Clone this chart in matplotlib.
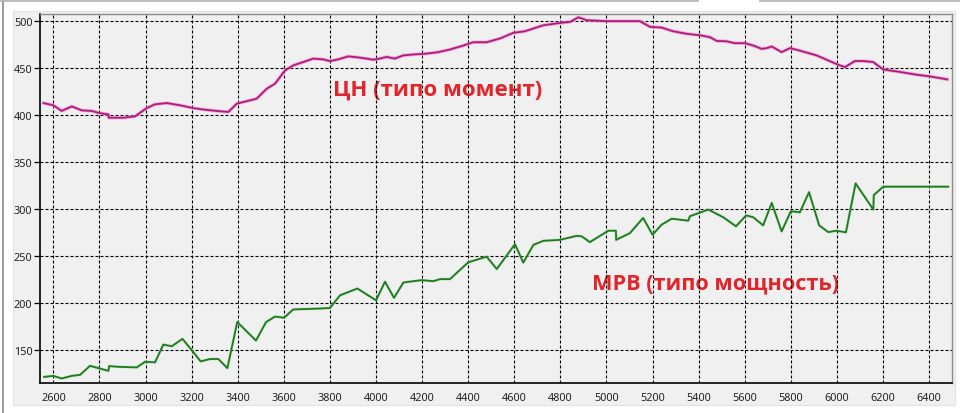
import matplotlib
matplotlib.use("Agg")
import matplotlib.pyplot as plt
from matplotlib.patches import Rectangle
from matplotlib.lines import Line2D

# ---- data ----
cn_rpm = [2557, 2600, 2636, 2680, 2723, 2767, 2795, 2839, 2840, 2904, 2954, 3005, 3041, 3092,
          3150, 3207, 3258, 3309, 3359, 3396, 3482, 3526, 3562, 3605, 3641, 3685, 3728, 3771,
          3800, 3836, 3880, 3931, 3988, 4017, 4046, 4082, 4118, 4162, 4220, 4270, 4321, 4379,
          4422, 4480, 4538, 4596, 4645, 4726, 4798, 4842, 4878, 4914, 5001, 5145, 5189, 5239,
          5290, 5348, 5406, 5449, 5478, 5521, 5557, 5600, 5637, 5673, 5695, 5717, 5760, 5796,
          5825, 5912, 6006, 6035, 6078, 6114, 6157, 6201, 6259, 6346, 6404, 6479]
cn_val = [412.4, 410, 404, 408.8, 404.6, 404, 402, 400.3, 396.8, 396.8, 398.2, 407, 411, 412.4,
          410, 407, 405.3, 404, 402.9, 411.7, 417, 427.6, 433, 447, 452.4, 456, 459.6, 458.8,
          457, 458.8, 462, 460.6, 458.5, 459.6, 461.4, 459.6, 463, 464, 464.9, 466.5, 469.3, 473.5,
          477, 477, 481, 487, 488.6, 495, 497.5, 498.6, 503.5, 500.4, 499.4, 499.4, 493.3, 492.6,
          488.6, 486, 484.4, 482.4, 478.4, 478, 476, 476, 473.5, 470, 470.7, 472.5, 466.5, 470.7,
          469, 463, 453, 450.6, 457, 457, 456, 448, 446, 442.5, 440.7, 437.5]

mrv_rpm = [2560, 2600, 2636, 2680, 2716, 2759, 2795, 2839, 2842, 2882, 2962, 2998, 3041, 3077,
           3114, 3160, 3200, 3239, 3280, 3316, 3355, 3398, 3479, 3523, 3562, 3601, 3641, 3743,
           3800, 3844, 3919, 4000, 4039, 4078, 4119, 4162, 4198, 4249, 4278, 4321, 4400, 4480,
           4524, 4603, 4639, 4683, 4726, 4798, 4871, 4893, 4928, 5008, 5041, 5042, 5102, 5159,
           5200, 5239, 5283, 5355, 5362, 5442, 5507, 5562, 5606, 5637, 5680, 5717, 5760, 5800,
           5839, 5879, 5923, 5962, 5998, 6039, 6081, 6158, 6160, 6201, 6483]
mrv_val = [121.4, 122.5, 119.7, 122.5, 123.6, 133.2, 130.7, 127.8, 132.9, 132.1, 131.5, 137.5,
           136.8, 155.7, 154, 161.8, 150, 137.9, 140.4, 140.4, 130.7, 179.7, 160, 179.7, 185.5,
           184.3, 193.1, 193.9, 194.6, 208.1, 215.3, 202.8, 222.5, 205.4, 221.7, 223.1, 224.2,
           223.1, 225.3, 225.3, 243.1, 249.2, 236, 262.4, 242.8, 261.7, 266, 267, 271.3, 270.7,
           264.6, 276.7, 276.7, 267, 274.2, 290.3, 272.4, 283.1, 289.5, 287.4, 292.1, 299.2, 291,
           281.4, 293, 291, 282.4, 306.3, 276, 297.4, 296.3, 317.7, 282.4, 275.3, 276.7, 275, 327,
           299.2, 314.6, 323.5, 323.5]

x_ticks = [2600, 2800, 3000, 3200, 3400, 3600, 3800, 4000, 4200, 4400, 4600, 4800, 5000,
           5200, 5400, 5600, 5800, 6000, 6200, 6400]
y_ticks = [150, 200, 250, 300, 350, 400, 450, 500]
label_cn = "ЦН (типо момент)"
label_mrv = "МРВ (типо мощность)"

# ---- figure ----
W, H = 960, 414
fig = plt.figure(figsize=(W / 100, H / 100), dpi=100, facecolor="white")

# background panel
fig.patches.append(Rectangle((13 / W, 1 - 406 / H), (955 - 13) / W, (406 - 12) / H,
                             transform=fig.transFigure, facecolor="#f0f0f0",
                             edgecolor="#e2e2e2", lw=0.8, zorder=-5))
# window frame fragments
fig.lines.append(Line2D([3 / W, 3 / W], [0, 1], transform=fig.transFigure, color="#8a8a8a", lw=1.2, zorder=-4))
fig.lines.append(Line2D([0, 698 / W], [1 - 1.5 / H] * 2, transform=fig.transFigure, color="#b0b0b0", lw=1.2, zorder=-4))
fig.lines.append(Line2D([760 / W, 1], [1 - 1.5 / H] * 2, transform=fig.transFigure, color="#b0b0b0", lw=1.2, zorder=-4))

ax = fig.add_axes([40 / W, 1 - 384.3 / H, (951.7 - 40) / W, (384.3 - 15) / H])
ax.set_zorder(1)
ax.set_facecolor("#f0f0f0")

# lines with soft halo
ax.plot(cn_rpm, cn_val, color="#f07cc8", lw=2.5, alpha=0.6, solid_joinstyle="round", zorder=3)
ax.plot(cn_rpm, cn_val, color="#b01c7c", lw=1.3, solid_joinstyle="round", zorder=4)
ax.plot(mrv_rpm, mrv_val, color="#8fd88f", lw=2.1, alpha=0.45, solid_joinstyle="round", zorder=3)
ax.plot(mrv_rpm, mrv_val, color="#1e7a1e", lw=1.3, solid_joinstyle="round", zorder=4)

ax.set_xlim(2542, 6498)
ax.set_ylim(114.6, 507)
ax.set_xticks(x_ticks)
ax.set_yticks(y_ticks)
ax.grid(True, color="black", lw=0.8, linestyle=(0, (2.7, 1.8)), zorder=1)
ax.set_axisbelow(True)

for s in ("left", "bottom"):
    ax.spines[s].set_color("black")
    ax.spines[s].set_linewidth(1.2)
for s in ("top", "right"):
    ax.spines[s].set_color("#8c8c8c")
    ax.spines[s].set_linewidth(1.0)

ax.tick_params(axis="y", length=4, width=0.9, color="black", pad=1.5,
               labelsize=7.8, labelcolor="#222222")
ax.tick_params(axis="x", length=0, pad=6, labelsize=7.8, labelcolor="#222222")
for lab in ax.get_xticklabels() + ax.get_yticklabels():
    lab.set_family(["Noto Sans", "DejaVu Sans"])

ax.text(333 / W, 1 - 90 / H, label_cn, transform=fig.transFigure, color="#e0262b",
        fontsize=16, fontweight="bold", family=["Open Sans", "DejaVu Sans"],
        ha="left", va="center", zorder=0.4)
ax.text(592 / W, 1 - 284 / H, label_mrv, transform=fig.transFigure, color="#e0262b",
        fontsize=15.6, fontweight="bold", family=["Open Sans", "DejaVu Sans"],
        ha="left", va="center", zorder=0.4)

fig.savefig("out.png", dpi=100, facecolor="white")
